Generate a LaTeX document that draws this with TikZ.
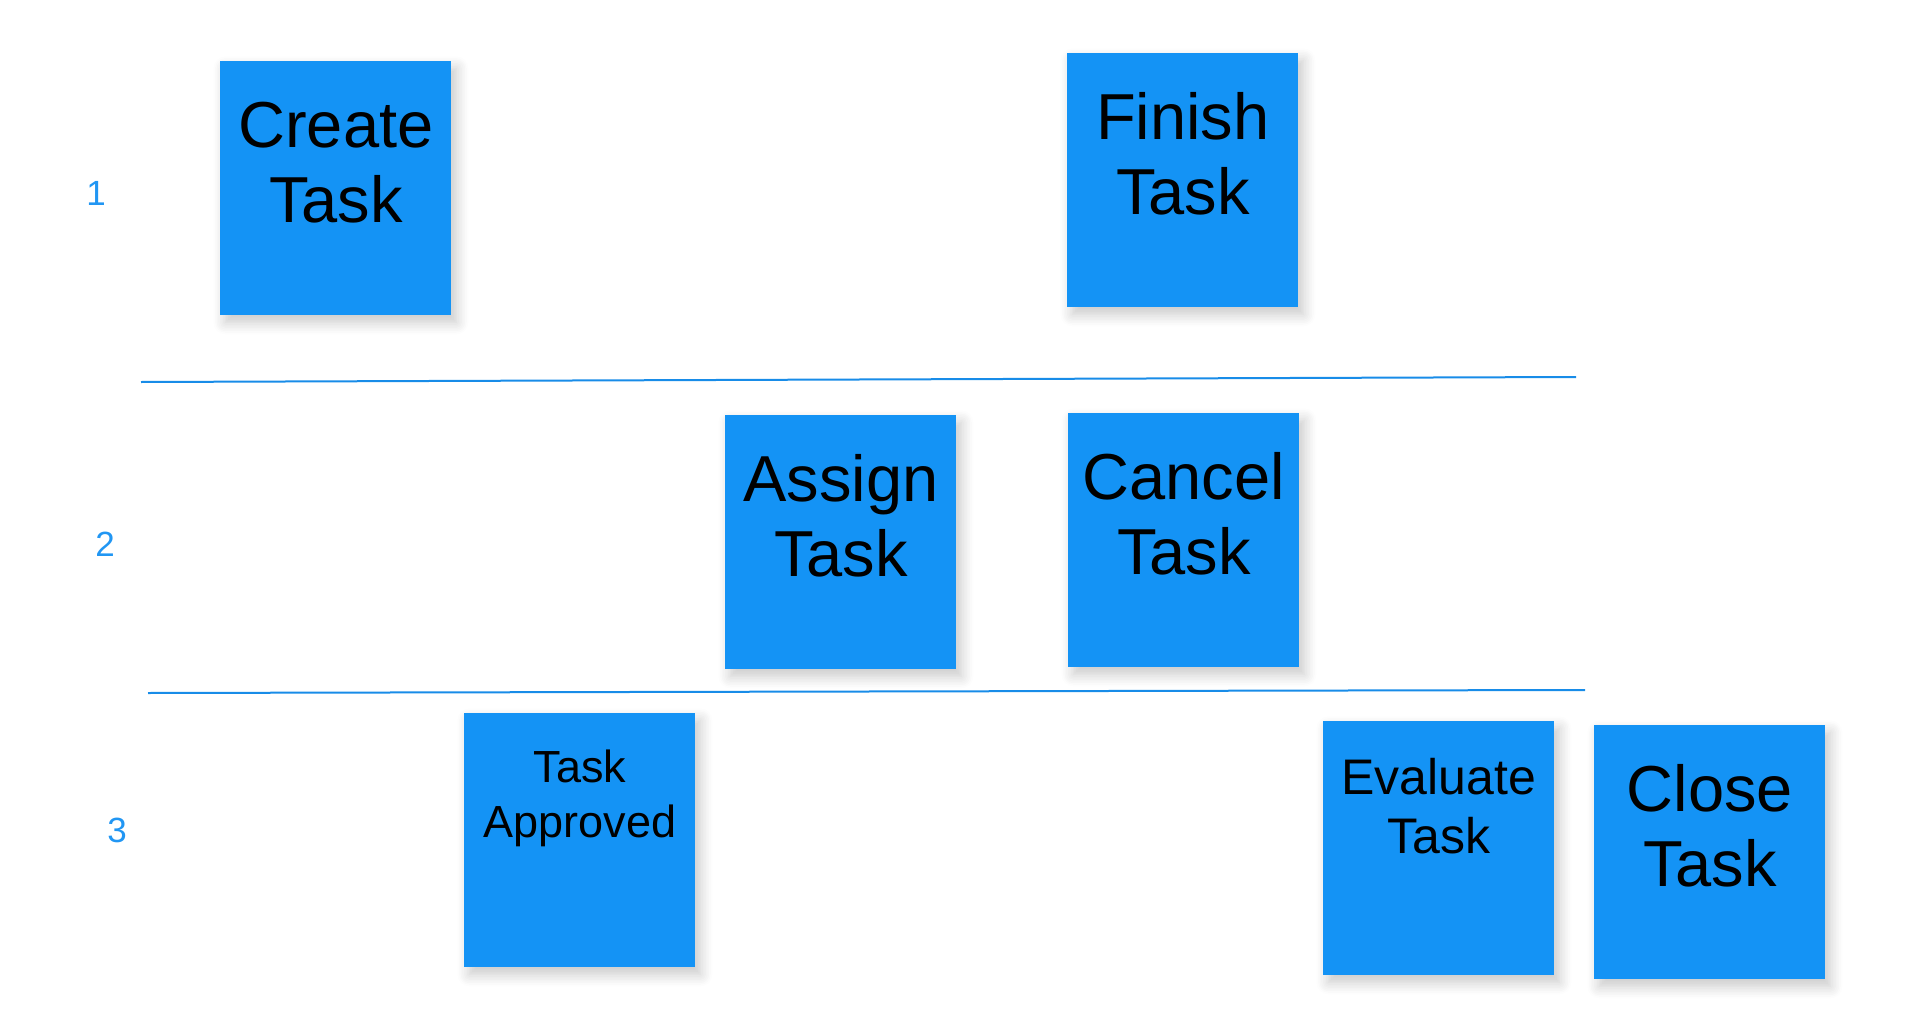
\documentclass[tikz,border=0pt]{standalone}
\usepackage{fontspec}
\setmainfont{Liberation Sans}
\usetikzlibrary{shadows.blur}
\definecolor{notefill}{RGB}{20,147,245}
\definecolor{laneblue}{RGB}{24,140,232}
\definecolor{numblue}{RGB}{33,150,243}
\tikzstyle{sticky}    = [rectangle, fill=notefill, anchor=north west, inner sep=0pt, text width=115.5pt, align=center, blur shadow={shadow xshift=2.5pt, shadow yshift=-3.5pt, shadow blur radius=6pt, shadow blur steps=8, shadow opacity=22}]
\tikzstyle{bigtext}   = [font=\fontsize{32.5pt}{37.5pt}\selectfont, text height=43pt, text depth=84pt]
\tikzstyle{midtext}   = [font=\fontsize{25pt}{29.5pt}\selectfont, text height=36.5pt, text depth=90.5pt]
\tikzstyle{smalltext} = [font=\fontsize{22.5pt}{27.5pt}\selectfont, text height=34.5pt, text depth=92.5pt]
\tikzstyle{lanenum}   = [anchor=base, inner sep=0pt, text=numblue, font=\fontsize{17.5pt}{20pt}\selectfont]
\tikzstyle{lane}      = [draw=laneblue, line width=1pt]

\begin{document}
\begin{tikzpicture}[x=0.5pt, y=-0.5pt]
            \useasboundingbox (0,0) rectangle (1919,1033);

            % row 1
            \node[sticky, bigtext] (create) at (220,61) {Create\\Task};
            \node[sticky, bigtext] (finish) at (1067,53) {Finish\\Task};
            % row 2
            \node[sticky, bigtext] (assign) at (725,415) {Assign\\Task};
            \node[sticky, bigtext] (cancel) at (1068,413) {Cancel\\Task};
            % row 3
            \node[sticky, smalltext] (approved) at (464,713) {Task\\Approved};
            \node[sticky, midtext]   (evaluate) at (1323,721) {Evaluate\\Task};
            \node[sticky, bigtext]   (close)    at (1594,725) {Close\\Task};

            \node[lanenum] (num1) at (96,205) {1};
            \node[lanenum] (num2) at (105,556) {2};
            \node[lanenum] (num3) at (117,842) {3};

            \coordinate (lane1w) at (141,382);
            \coordinate (lane1e) at (1576,377);
            \coordinate (lane2w) at (148,693);
            \coordinate (lane2e) at (1585,690);
            \path [lane] (lane1w) -- (lane1e);
            \path [lane] (lane2w) -- (lane2e);
        \end{tikzpicture}
\end{document}
